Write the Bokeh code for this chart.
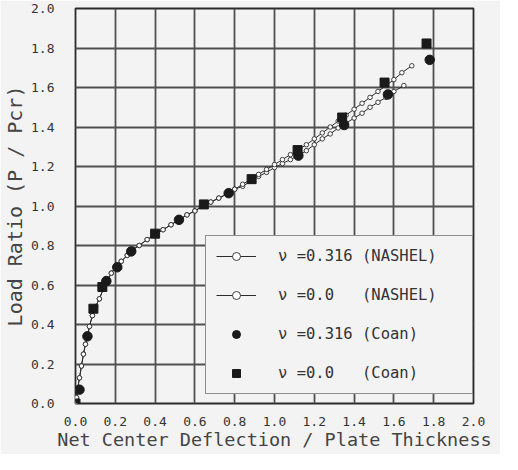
from bokeh.plotting import figure
from bokeh.models import FixedTicker, Legend, LegendItem
from bokeh.embed import file_html
from bokeh.resources import INLINE

# ---- data -------------------------------------------------------------
tick_values = [0.0, 0.2, 0.4, 0.6, 0.8, 1.0, 1.2, 1.4, 1.6, 1.8, 2.0]
tick_labels = ["0.0", "0.2", "0.4", "0.6", "0.8", "1.0", "1.2", "1.4", "1.6", "1.8", "2.0"]

# NASHEL, nu = 0.316
nashel_316_x = [0.0, 0.005, 0.01, 0.02, 0.03, 0.04, 0.05, 0.06, 0.07, 0.085, 0.10, 0.12,
                0.14, 0.16, 0.18, 0.20, 0.23, 0.26, 0.29, 0.32, 0.36, 0.40, 0.44, 0.48,
                0.52, 0.56, 0.60, 0.64, 0.68, 0.72, 0.76, 0.80, 0.84, 0.88, 0.92, 0.96,
                1.00, 1.04, 1.08, 1.12, 1.16, 1.20, 1.24, 1.28, 1.32, 1.36, 1.40, 1.44,
                1.48, 1.52, 1.56, 1.60, 1.65]
nashel_316_y = [0.0, 0.03, 0.07, 0.13, 0.19, 0.25, 0.30, 0.34, 0.39, 0.445, 0.49, 0.53,
                0.58, 0.62, 0.66, 0.69, 0.72, 0.75, 0.78, 0.80, 0.83, 0.855, 0.88, 0.905,
                0.93, 0.955, 0.975, 1.00, 1.02, 1.04, 1.06, 1.085, 1.10, 1.125, 1.15, 1.17,
                1.195, 1.215, 1.235, 1.255, 1.28, 1.31, 1.34, 1.365, 1.395, 1.42, 1.445, 1.47,
                1.50, 1.525, 1.55, 1.58, 1.61]

# NASHEL, nu = 0.0
nashel_0_x = [0.0, 0.005, 0.01, 0.02, 0.03, 0.04, 0.05, 0.06, 0.07, 0.085, 0.10, 0.12,
              0.14, 0.16, 0.18, 0.20, 0.23, 0.26, 0.29, 0.32, 0.36, 0.40, 0.44, 0.48,
              0.52, 0.56, 0.60, 0.64, 0.68, 0.72, 0.76, 0.80, 0.84, 0.88, 0.92, 0.96,
              1.00, 1.04, 1.08, 1.12, 1.16, 1.20, 1.24, 1.28, 1.32, 1.36, 1.40, 1.44,
              1.48, 1.52, 1.56, 1.60, 1.64, 1.69]
nashel_0_y = [0.0, 0.03, 0.07, 0.13, 0.19, 0.25, 0.30, 0.34, 0.39, 0.445, 0.49, 0.53,
              0.58, 0.62, 0.66, 0.69, 0.72, 0.75, 0.78, 0.80, 0.83, 0.855, 0.88, 0.905,
              0.93, 0.955, 0.975, 1.00, 1.02, 1.04, 1.06, 1.085, 1.11, 1.135, 1.16, 1.185,
              1.21, 1.235, 1.26, 1.285, 1.31, 1.34, 1.37, 1.40, 1.43, 1.46, 1.49, 1.52,
              1.55, 1.58, 1.61, 1.64, 1.675, 1.71]

# Coan, nu = 0.316 (circles)
coan_316_x = [0.02, 0.06, 0.155, 0.21, 0.28, 0.52, 0.77, 1.12, 1.35, 1.57, 1.78]
coan_316_y = [0.07, 0.34, 0.62, 0.69, 0.77, 0.93, 1.065, 1.255, 1.41, 1.565, 1.74]

# Coan, nu = 0.0 (squares)
coan_0_x = [0.0, 0.09, 0.135, 0.40, 0.645, 0.885, 1.116, 1.34, 1.553, 1.764]
coan_0_y = [0.0, 0.48, 0.59, 0.86, 1.008, 1.136, 1.283, 1.448, 1.625, 1.823]

legend_labels = ["ν =0.316 (NASHEL)", "ν =0.0   (NASHEL)",
                 "ν =0.316 (Coan)", "ν =0.0   (Coan)"]
x_title = "Net Center Deflection / Plate Thickness"
y_title = "Load Ratio (P / Pcr)"

# ---- figure -----------------------------------------------------------
MONO = "DejaVu Sans Mono"
BG = "#f4f3f4"
INK = "#2b2b2b"
GRID = "#505050"

p = figure(width=500, height=454, x_range=(0, 2.0), y_range=(0, 2.0),
           output_backend="svg", toolbar_location=None,
           min_border_left=75, min_border_right=27, min_border_top=8, min_border_bottom=51,
           background_fill_color=BG, border_fill_color=BG)

p.outline_line_color = INK
p.outline_line_width = 1.8

for ax in (p.xaxis[0], p.yaxis[0]):
    ax.ticker = FixedTicker(ticks=tick_values)
    ax.major_label_overrides = dict(zip(tick_values, tick_labels))
    ax.axis_line_color = None
    ax.major_tick_line_color = None
    ax.minor_tick_line_color = None
    ax.major_label_text_font = MONO
    ax.major_label_text_font_size = "13px"
    ax.major_label_text_color = "#333333"
    ax.axis_label_text_font = MONO
    ax.axis_label_text_font_style = "normal"
    ax.axis_label_text_color = "#444444"

p.xaxis.axis_label = x_title
p.xaxis.axis_label_text_font_size = "18.5px"
p.xaxis.major_label_standoff = 7
p.xaxis.axis_label_standoff = 0

p.yaxis.axis_label = y_title
p.yaxis.axis_label_text_font_size = "20px"
p.yaxis.major_label_standoff = 15
p.yaxis.axis_label_standoff = 1

for g in (p.xgrid[0], p.ygrid[0]):
    g.ticker = FixedTicker(ticks=tick_values)
    g.grid_line_color = GRID
    g.grid_line_width = 1.8
    g.grid_line_alpha = 1.0

# NASHEL curves
l316 = p.line(nashel_316_x, nashel_316_y, line_color=INK, line_width=1)
m316 = p.scatter(nashel_316_x, nashel_316_y, marker="circle", size=4.5,
                 fill_color="white", line_color=INK, line_width=0.9)
l0 = p.line(nashel_0_x, nashel_0_y, line_color=INK, line_width=1)
m0 = p.scatter(nashel_0_x, nashel_0_y, marker="circle", size=4.5,
               fill_color="white", line_color=INK, line_width=0.9)

# Coan points
c316 = p.scatter(coan_316_x, coan_316_y, marker="circle", size=9.5,
                 fill_color="#1a1a1a", line_color="#1a1a1a")
c0 = p.scatter(coan_0_x, coan_0_y, marker="square", size=9,
               fill_color="#1a1a1a", line_color="#1a1a1a")

legend = Legend(items=[
    LegendItem(label=legend_labels[0], renderers=[l316, m316]),
    LegendItem(label=legend_labels[1], renderers=[l0, m0]),
    LegendItem(label=legend_labels[2], renderers=[c316]),
    LegendItem(label=legend_labels[3], renderers=[c0]),
])
legend.location = (130, 9)
legend.padding = 10
legend.spacing = 19
legend.glyph_height = 20
legend.glyph_width = 40
legend.label_height = 20
legend.label_standoff = 22
legend.label_width = 184
legend.label_text_font = MONO
legend.label_text_font_size = "15.5px"
legend.label_text_color = "#333333"
legend.border_line_color = INK
legend.border_line_width = 1.5
legend.background_fill_color = BG
legend.background_fill_alpha = 1.0
p.add_layout(legend, "center")

open("out.html", "w").write(file_html(p, INLINE))
